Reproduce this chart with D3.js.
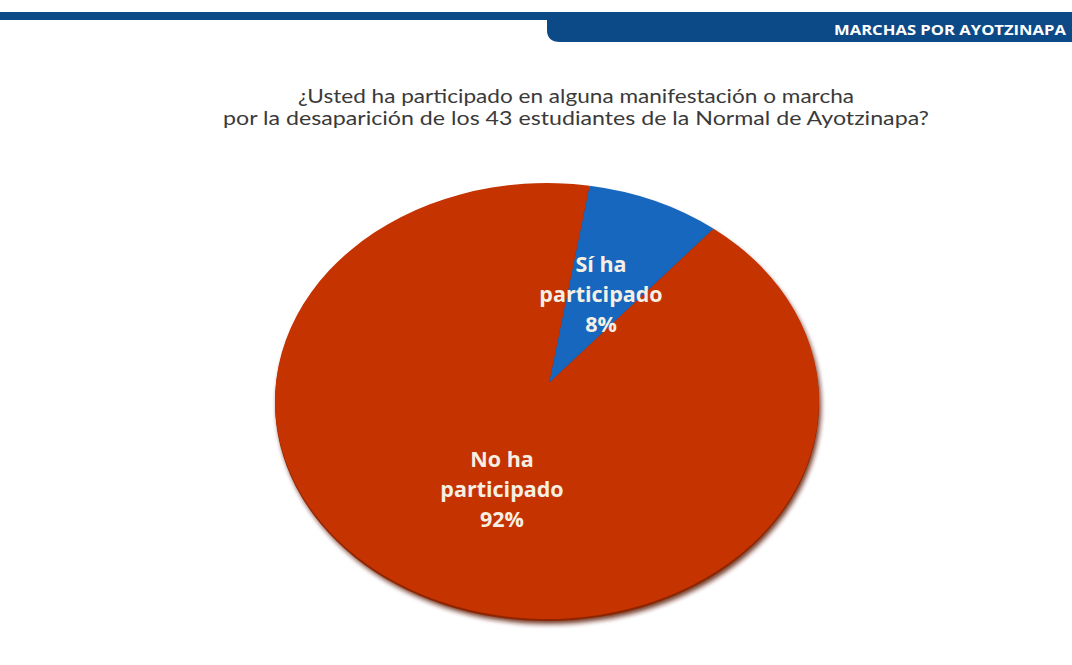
<!DOCTYPE html>
<html><head><meta charset="utf-8">
<script src="https://cdn.jsdelivr.net/npm/d3@7"></script>
<style>html,body{margin:0;padding:0;background:#fff;}svg{display:block;}</style>
</head><body>
<svg id="chart" width="1072" height="665"></svg>
<script>
const categories = ["Sí ha participado", "No ha participado"];
const labelLines = [["Sí ha", "participado"], ["No ha", "participado"]];
const values = [8, 92];
const colors = ["#1767bf", "#c43300"];
const titleLines = ["¿Usted ha participado en alguna manifestación o marcha",
                    "por la desaparición de los 43 estudiantes de la Normal de Ayotzinapa?"];
const titleWidths = [556, 706];
const headerText = "MARCHAS POR AYOTZINAPA";

const W = 1072, H = 665;
const svg = d3.select("#chart");

// header band
svg.append("rect").attr("x", 0).attr("y", 12).attr("width", W).attr("height", 8).attr("fill", "#0c4a87");
svg.append("path")
  .attr("d", `M547,12 H${W} V42 H560 Q547,42 547,30 Z`)
  .attr("fill", "#0c4a87");
svg.append("text").attr("x", 834).attr("y", 35)
  .attr("font-family", "'Open Sans', sans-serif").attr("font-weight", 700)
  .attr("font-size", 15).attr("fill", "#fff")
  .attr("textLength", 232).attr("lengthAdjust", "spacingAndGlyphs").text(headerText);

// title
svg.append("g").selectAll("text").data(titleLines).join("text")
  .attr("x", 576).attr("y", (d, i) => 103 + i * 22)
  .attr("text-anchor", "middle")
  .attr("font-family", "Lato, sans-serif").attr("font-size", 18.5)
  .attr("textLength", (d, i) => titleWidths[i]).attr("lengthAdjust", "spacingAndGlyphs")
  .attr("fill", "#3a3a3a").text(d => d);

// pie geometry
const cx = 547, cy = 401, rx = 272, ry = 218;
const apex = [549, 383];
const pie = d3.pie().sort(null).startAngle(0.157).endAngle(0.157 + 2 * Math.PI);
const arcs = pie(values);
const ex = a => cx + rx * Math.sin(a);
const ey = a => cy - ry * Math.cos(a);

function slicePath(d) {
  const large = (d.endAngle - d.startAngle) > Math.PI ? 1 : 0;
  return `M${apex[0]},${apex[1]} L${ex(d.startAngle)},${ey(d.startAngle)} ` +
         `A${rx},${ry} 0 ${large} 1 ${ex(d.endAngle)},${ey(d.endAngle)} Z`;
}

const defs = svg.append("defs");
const f = defs.append("filter").attr("id", "blur").attr("x", "-10%").attr("y", "-10%").attr("width", "120%").attr("height", "120%");
f.append("feGaussianBlur").attr("stdDeviation", 2.5);

// shadow / depth
svg.append("ellipse").attr("cx", cx + 2).attr("cy", cy + 5).attr("rx", rx).attr("ry", ry)
  .attr("fill", "#5a1400").attr("filter", "url(#blur)").attr("opacity", 0.85);
svg.append("ellipse").attr("cx", cx).attr("cy", cy + 2).attr("rx", rx).attr("ry", ry)
  .attr("fill", "#8e2400");

svg.append("g").selectAll("path").data(arcs).join("path")
  .attr("d", slicePath)
  .attr("fill", (d, i) => colors[i]);

// labels
const labelPos = [[601, 272], [502, 467]];
const lg = svg.append("g").attr("font-family", "'Open Sans', sans-serif").attr("font-weight", 700)
  .attr("font-size", 21.5).attr("fill", "#f6efe4").attr("text-anchor", "middle");
arcs.forEach((d, i) => {
  const lines = labelLines[i].concat([values[i] + "%"]);
  lg.append("g").selectAll("text").data(lines).join("text")
    .attr("x", labelPos[i][0]).attr("y", (t, j) => labelPos[i][1] + j * 30)
    .text(t => t);
});
</script>
</body></html>
